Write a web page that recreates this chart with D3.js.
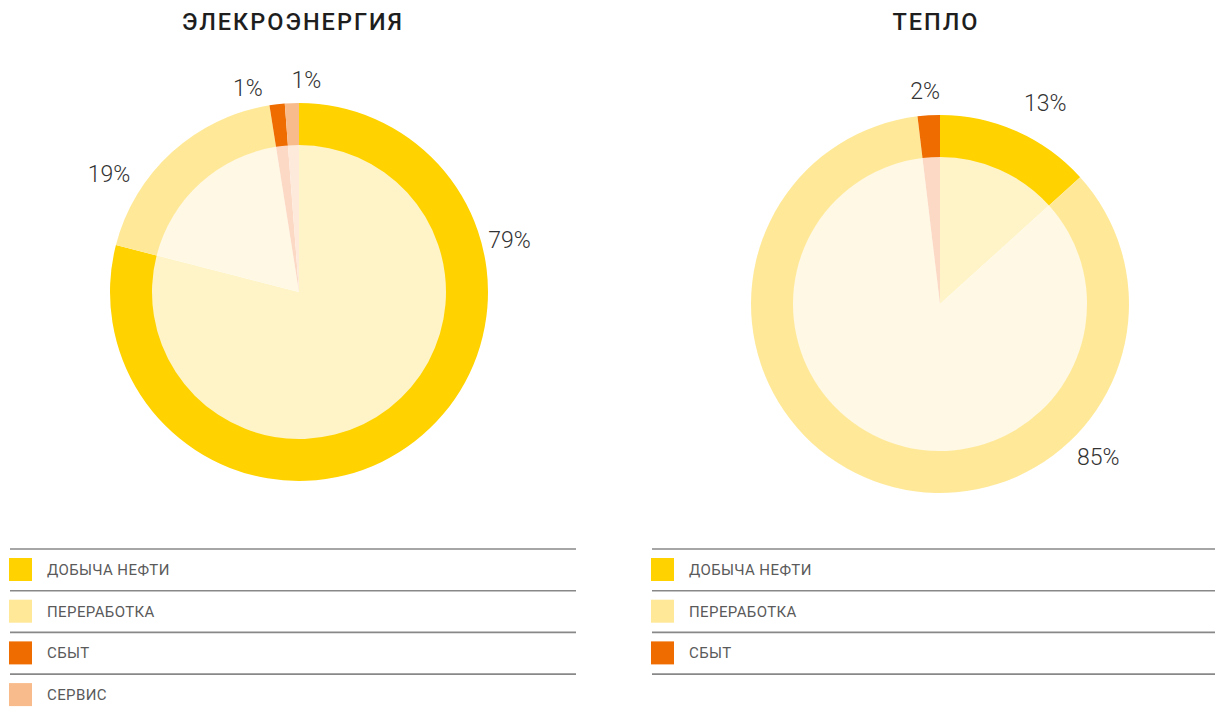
<!DOCTYPE html>
<html>
<head>
<meta charset="utf-8">
<script src="https://cdn.jsdelivr.net/npm/d3@7"></script>
<style>
  body { margin: 0; background: #fff; }
  svg { display: block; font-family: Roboto, "Noto Sans", sans-serif; }
</style>
</head>
<body>
<div id="chart"></div>
<script>
// chart data (labels show the rounded share)
const titles = ["ЭЛЕКРОЭНЕРГИЯ", "ТЕПЛО"];
const categories = ["ДОБЫЧА НЕФТИ", "ПЕРЕРАБОТКА", "СБЫТ", "СЕРВИС"];
const powerValues = [79, 18.5, 1.3, 1.2];
const heatValues = [13.3, 84.8, 1.9];

// colours per category: outer ring and pale inner pie
const ringColors = ["#ffd200", "#ffe999", "#ef6c00", "#f8bb8b"];
const pieColors = ["#fff4c8", "#fff8e5", "#fbd9c4", "#fdeadb"];

// where each percent label sits (degrees clockwise from top, radius)
const labelSpots = [
    [[76, 217], [302, 224], [346, 211], [2, 212]],
    [[27.6, 227], [134, 220], [356, 214]]
];

const W = 1215, H = 713;
const svg = d3.select("#chart").append("svg")
    .attr("width", W)
    .attr("height", H);

const panels = [
    { values: powerValues, cx: 299, cy: 292, titleX: 293, legendX0: 10, legendX1: 576 },
    { values: heatValues, cx: 940, cy: 304, titleX: 936, legendX0: 652, legendX1: 1215 }
];

const rOuter = 189, rInner = 147;

const pie = d3.pie().sort(null).value(d => d);
const ringArc = d3.arc().innerRadius(rInner).outerRadius(rOuter);
const pieArc = d3.arc().innerRadius(0).outerRadius(rInner + 0.5);

panels.forEach(function (p, i) {
    // title
    svg.append("text")
        .attr("x", p.titleX)
        .attr("y", 30)
        .attr("text-anchor", "middle")
        .style("font-size", "23.5px")
        .style("font-weight", 500)
        .style("letter-spacing", "2px")
        .style("fill", "#1e1e1e")
        .text(titles[i]);

    const arcs = pie(p.values);
    const g = svg.append("g").attr("transform", `translate(${p.cx},${p.cy})`);

    g.selectAll("path.inner")
        .data(arcs)
        .join("path")
        .attr("class", "inner")
        .attr("d", pieArc)
        .attr("fill", (d, j) => pieColors[j]);

    g.selectAll("path.ring")
        .data(arcs)
        .join("path")
        .attr("class", "ring")
        .attr("d", ringArc)
        .attr("fill", (d, j) => ringColors[j]);

    // percent labels
    g.selectAll("text.pct")
        .data(arcs)
        .join("text")
        .attr("class", "pct")
        .attr("x", (d, j) => labelSpots[i][j][1] * Math.sin(labelSpots[i][j][0] * Math.PI / 180))
        .attr("y", (d, j) => -labelSpots[i][j][1] * Math.cos(labelSpots[i][j][0] * Math.PI / 180))
        .attr("dy", "0.36em")
        .attr("text-anchor", "middle")
        .style("font-size", "23px")
        .style("font-weight", 300)
        .style("fill", "#333")
        .text(d => Math.round(d.data) + "%");

    // legend rows with rules
    const legendTop = 549, rowH = 41.7;
    const lg = svg.append("g");
    p.values.forEach(function (v, j) {
        const y = legendTop + j * rowH;
        lg.append("line")
            .attr("x1", p.legendX0)
            .attr("x2", p.legendX1)
            .attr("y1", y)
            .attr("y2", y)
            .attr("stroke", "#888")
            .attr("stroke-width", 1.6);
        lg.append("rect")
            .attr("x", p.legendX0 - 1)
            .attr("y", y + 9)
            .attr("width", 23)
            .attr("height", 23)
            .attr("fill", ringColors[j]);
        lg.append("text")
            .attr("x", p.legendX0 + 37)
            .attr("y", y + 26)
            .style("font-size", "15px")
            .style("letter-spacing", "0.4px")
            .style("fill", "#5a5a5a")
            .text(categories[j]);
    });
    if (i === 1) {
        const y = legendTop + p.values.length * rowH;
        lg.append("line")
            .attr("x1", p.legendX0)
            .attr("x2", p.legendX1)
            .attr("y1", y)
            .attr("y2", y)
            .attr("stroke", "#888")
            .attr("stroke-width", 1.6);
    }
});
</script>
</body>
</html>
